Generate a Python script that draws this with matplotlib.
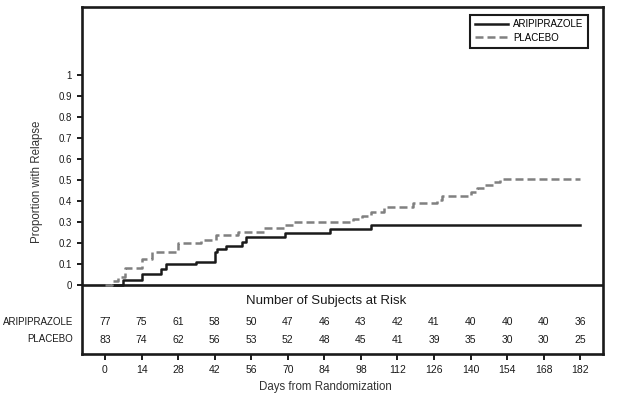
import matplotlib
matplotlib.use('Agg')
import matplotlib.pyplot as plt

plt.rcParams['font.family'] = ['Liberation Sans', 'DejaVu Sans']

# Kaplan-Meier style step curves (day, cumulative proportion)
ari_days = [3, 7, 14, 21.5, 23.5, 35, 42, 43, 46.5, 52.5, 54, 69, 86, 102, 182]
ari_prop = [0, 0.026, 0.052, 0.078, 0.098, 0.111, 0.159, 0.173, 0.187, 0.205, 0.230,
            0.249, 0.267, 0.284, 0.284]

pla_days = [0, 2.6, 5, 7.7, 14, 18, 28, 36.8, 42.5, 50.8, 61, 68.6, 72, 95, 98.3, 102,
            107, 118, 127, 129, 140, 142.4, 145.6, 148.8, 151.3, 182]
pla_prop = [0, 0.02, 0.04, 0.079, 0.125, 0.159, 0.198, 0.214, 0.238, 0.254, 0.27, 0.285,
            0.301, 0.313, 0.33, 0.349, 0.373, 0.389, 0.405, 0.424, 0.444, 0.46, 0.476,
            0.49, 0.503, 0.503]

# subjects at risk table
risk_days = [0, 14, 28, 42, 56, 70, 84, 98, 112, 126, 140, 154, 168, 182]
ari_risk = [77, 75, 61, 58, 50, 47, 46, 43, 42, 41, 40, 40, 40, 36]
pla_risk = [83, 74, 62, 56, 53, 52, 48, 45, 41, 39, 35, 30, 30, 25]

yticks = [0, 0.1, 0.2, 0.3, 0.4, 0.5, 0.6, 0.7, 0.8, 0.9, 1]
ytick_labels = ['0', '0.1', '0.2', '0.3', '0.4', '0.5', '0.6', '0.7', '0.8', '0.9', '1']

INK = '#1a1a1a'
GREY = '#808080'

fig = plt.figure(figsize=(6.19, 3.97), dpi=100)
ax = fig.add_axes([0.1325, 0.1083, 0.8417, 0.8741])

ax.set_xlim(-8.8, 190.7)
ax.set_ylim(-0.3286, 1.3238)

# zero line separates the curves from the at-risk table
ax.axhline(0, color=INK, lw=1.9, zorder=1)

ax.plot(ari_days, ari_prop, drawstyle='steps-post', color=INK, lw=1.8,
        label='ARIPIPRAZOLE', zorder=3)
ax.plot(pla_days, pla_prop, drawstyle='steps-post', color=GREY, lw=1.8,
        linestyle=(0, (3.2, 1.6)), label='PLACEBO', zorder=4)

for sp in ax.spines.values():
    sp.set_color(INK)
    sp.set_linewidth(1.9)

ax.set_xticks(risk_days)
ax.set_xticklabels([str(d) for d in risk_days])
ax.tick_params(axis='x', direction='out', length=4.3, width=1.4, pad=3.6,
               labelsize=7.5, colors=INK)
ax.set_yticks(yticks)
ax.set_yticklabels(ytick_labels)
ax.tick_params(axis='y', direction='out', length=3.6, width=1.4, pad=3.6,
               labelsize=7, colors=INK)

ax.set_ylabel('Proportion with Relapse', fontsize=8.3, color='#333333')
ax.yaxis.set_label_coords(-0.075, 0.497)
ax.set_xlabel('Days from Randomization', fontsize=8.3, color='#333333')
ax.xaxis.set_label_coords(0.468, -0.078)

# at-risk table
ax.text(84.7, -0.076, 'Number of Subjects at Risk', ha='center', va='center',
        fontsize=9.5, color=INK)
for d, a, p in zip(risk_days, ari_risk, pla_risk):
    ax.text(d, -0.175, str(a), ha='center', va='center', fontsize=7.5, color=INK)
    ax.text(d, -0.26, str(p), ha='center', va='center', fontsize=7.5, color=INK)
ax.text(-0.0173, (354 - 321.7) / 347, 'ARIPIPRAZOLE', transform=ax.transAxes,
        ha='right', va='center', fontsize=7, color=INK)
ax.text(-0.0173, (354 - 338.5) / 347, 'PLACEBO', transform=ax.transAxes,
        ha='right', va='center', fontsize=7, color=INK)

leg = ax.legend(loc='upper right', bbox_to_anchor=(0.972, 0.978), borderaxespad=0,
                fontsize=7, handlelength=3.4, handletextpad=0.5, borderpad=0.5,
                labelspacing=0.35, fancybox=False, framealpha=1, edgecolor=INK)
leg.get_frame().set_linewidth(1.5)

fig.savefig('out.png', dpi=100)
